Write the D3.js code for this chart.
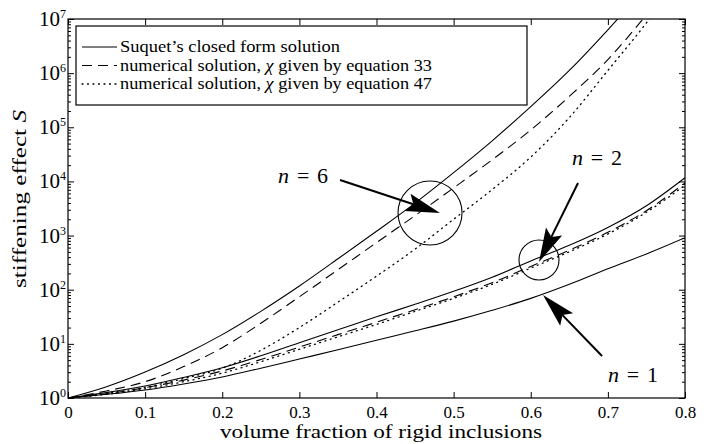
<!DOCTYPE html>
<html>
<head>
<meta charset="utf-8">
<script src="https://cdn.jsdelivr.net/npm/d3@7"></script>
<style>
  html, body { margin: 0; padding: 0; background: #fff; }
  svg { display: block; }
  svg text { font-family: "Liberation Serif", "DejaVu Serif", "Times New Roman", serif; fill: #000; }
</style>
</head>
<body>
<script>
// Volume fraction of rigid inclusions (x positions of the sampled curves)
const fractions = [0, 0.05, 0.1, 0.15, 0.2, 0.25, 0.3, 0.35, 0.4, 0.45, 0.5, 0.55, 0.6, 0.65, 0.7, 0.75, 0.8];

// Stiffening effect S for each exponent n
const n1Closed   = [1, 1.17, 1.41, 1.82, 2.45, 3.55, 5.25, 7.76, 11.7, 17.4, 26.3, 41.7, 69.2, 126, 245, 457, 912];

const n2Closed   = [1, 1.26, 1.66, 2.40, 3.63, 6.03, 10.5, 18.2, 31.6, 53.7, 93.3, 170, 339, 661, 1410, 3550, 11700];
const n2Eq33     = [1, 1.20, 1.55, 2.14, 3.16, 5.13, 8.71, 14.8, 25.1, 42.7, 74.1, 135, 269, 537, 1150, 2880, 9330];
const n2Eq47     = [1, 1.17, 1.48, 2.00, 2.88, 4.68, 7.94, 13.5, 22.9, 39.8, 69.2, 126, 251, 501, 1070, 2690, 8510];

const n6Closed   = [1, 1.62, 3.02, 6.31, 14.8, 39.8, 117, 372, 1200, 3980, 14500, 56200, 240000, 1120000, 6310000, 39800000, 250000000];
const n6Eq33     = [1, 1.35, 2.00, 3.80, 8.51, 24.0, 74.1, 234, 741, 2340, 7590, 25100, 89100, 372000, 1780000, 12000000, 100000000];
const n6Eq47     = [1, 1.23, 1.58, 2.29, 3.55, 7.59, 20.0, 58.9, 178, 562, 2000, 7080, 28200, 151000, 1120000, 8500000, 80000000];

// Axis ticks
const xTicks = [0, 0.1, 0.2, 0.3, 0.4, 0.5, 0.6, 0.7, 0.8];
const xTickLabels = ["0", "0.1", "0.2", "0.3", "0.4", "0.5", "0.6", "0.7", "0.8"];
const yDecades = [0, 1, 2, 3, 4, 5, 6, 7];

// Legend entries
const legendLabels = [
  ["Suquet\u2019s closed form solution"],
  ["numerical solution, ", "\u03C7", " given by equation 33"],
  ["numerical solution, ", "\u03C7", " given by equation 47"]
];
const legendWidths = [220, 312, 312];

const W = 715, H = 444;
const margin = { left: 68, right: 30, top: 19, bottom: 46 };
const pw = W - margin.left - margin.right;
const ph = H - margin.top - margin.bottom;

const svg = d3.select("body").append("svg").attr("width", W).attr("height", H);
const g = svg.append("g").attr("transform", `translate(${margin.left},${margin.top})`);

const x = d3.scaleLinear().domain([0, 0.8]).range([0, pw]);
const y = d3.scaleLog().domain([1, 1e7]).range([ph, 0]);

svg.append("defs").append("clipPath").attr("id", "plotClip")
  .append("rect").attr("width", pw).attr("height", ph);

// Curves
const dashes = { solid: null, dashed: "10,6", dotted: "1,4.5" };
const series = [
  { vals: n1Closed, style: "solid" },
  { vals: n2Closed, style: "solid" },
  { vals: n2Eq33, style: "dashed" },
  { vals: n2Eq47, style: "dotted" },
  { vals: n6Closed, style: "solid" },
  { vals: n6Eq33, style: "dashed" },
  { vals: n6Eq47, style: "dotted" }
];
const line = d3.line()
  .x(d => x(d[0]))
  .y(d => y(d[1]))
  .curve(d3.curveMonotoneX);

const curves = g.append("g").attr("clip-path", "url(#plotClip)");
series.forEach(s => {
  curves.append("path")
    .datum(fractions.map((f, i) => [f, s.vals[i]]))
    .attr("d", line)
    .attr("fill", "none")
    .attr("stroke", "#000")
    .attr("stroke-width", s.style === "dotted" ? 1.3 : 1.1)
    .attr("stroke-linecap", s.style === "dotted" ? "round" : "butt")
    .attr("stroke-dasharray", dashes[s.style]);
});

// Axes with inward ticks on all four sides
const minorVals = [];
for (let e = 0; e < 7; e++) for (let m = 2; m <= 9; m++) minorVals.push(m * Math.pow(10, e));
const majorVals = yDecades.map(e => Math.pow(10, e));

function styleAxis(sel) {
  sel.attr("font-family", null);
  sel.select(".domain").remove();
  sel.selectAll(".tick line").attr("stroke", "#000").attr("stroke-width", 1);
}

const xb = g.append("g").attr("transform", `translate(0,${ph})`)
  .call(d3.axisBottom(x).tickValues(xTicks).tickSizeInner(-6).tickSizeOuter(0).tickPadding(8)
    .tickFormat((d, i) => xTickLabels[i]));
styleAxis(xb);
xb.attr("font-size", 17);
xb.selectAll("text").attr("fill", "#000");

const xt = g.append("g")
  .call(d3.axisTop(x).tickValues(xTicks).tickSizeInner(-6).tickSizeOuter(0).tickFormat(""));
styleAxis(xt);

[[d3.axisLeft, 0], [d3.axisRight, pw]].forEach(([ax, tx]) => {
  const maj = g.append("g").attr("transform", `translate(${tx},0)`)
    .call(ax(y).tickValues(majorVals).tickSizeInner(-6).tickSizeOuter(0).tickFormat(""));
  styleAxis(maj);
  const mn = g.append("g").attr("transform", `translate(${tx},0)`)
    .call(ax(y).tickValues(minorVals).tickSizeInner(-3).tickSizeOuter(0).tickFormat(""));
  styleAxis(mn);
});

// Decade labels 10^k
const yl = g.append("g");
yDecades.forEach(e => {
  const t = yl.append("text")
    .attr("x", -2)
    .attr("y", y(Math.pow(10, e)) + 7)
    .attr("text-anchor", "end")
    .attr("font-size", 21);
  t.append("tspan").text("10");
  t.append("tspan").attr("dy", -8).attr("font-size", 12).text(String(e));
});

// Plot frame
g.append("rect").attr("width", pw).attr("height", ph)
  .attr("fill", "none").attr("stroke", "#000").attr("stroke-width", 1.2);

// Axis titles
svg.append("text")
  .attr("x", 220)
  .attr("y", 438)
  .attr("font-size", 18)
  .attr("textLength", 322)
  .attr("lengthAdjust", "spacingAndGlyphs")
  .text("volume fraction of rigid inclusions");

const ylab = svg.append("text")
  .attr("transform", "translate(26,288) rotate(-90)")
  .attr("font-size", 19)
  .attr("textLength", 178)
  .attr("lengthAdjust", "spacingAndGlyphs");
ylab.append("tspan").text("stiffening effect ");
ylab.append("tspan").attr("font-style", "italic").text("S");

// Legend
const lg = g.append("g").attr("transform", "translate(8,7)");
lg.append("rect").attr("width", 451).attr("height", 79)
  .attr("fill", "#fff").attr("stroke", "#000").attr("stroke-width", 1.2);
["solid", "dashed", "dotted"].forEach((st, i) => {
  const yy = 21 + i * 18.5;
  lg.append("line").attr("x1", 6).attr("x2", 41).attr("y1", yy).attr("y2", yy)
    .attr("stroke", "#000").attr("stroke-width", st === "dotted" ? 1.3 : 1.1)
    .attr("stroke-linecap", st === "dotted" ? "round" : "butt")
    .attr("stroke-dasharray", dashes[st]);
  const t = lg.append("text").attr("x", 44).attr("y", yy + 5).attr("font-size", 17)
    .attr("textLength", legendWidths[i]).attr("lengthAdjust", "spacingAndGlyphs");
  legendLabels[i].forEach(part => {
    const ts = t.append("tspan").text(part);
    if (part === "\u03C7") ts.attr("font-style", "italic");
  });
});

// Annotations: circles around curve families, arrows and exponent labels
const annotCircles = [
  { fx: 0.4694, s: 2610, r: 32 },
  { fx: 0.6107, s: 354, r: 20 }
];
const annotArrows = [
  { from: [0.3527, 10640], to: [0.4823, 2610] },
  { from: [0.6613, 9360], to: [0.6107, 325] },
  { from: [0.6924, 5.97], to: [0.6159, 79.9] }
];
const annotLabels = [
  { n: "6", fx: 0.2724, s: 9360 },
  { n: "2", fx: 0.6535, s: 20100 },
  { n: "1", fx: 0.7002, s: 1.97 }
];

const ann = g.append("g");
annotCircles.forEach(c => {
  ann.append("circle").attr("cx", x(c.fx)).attr("cy", y(c.s)).attr("r", c.r)
    .attr("fill", "none").attr("stroke", "#000").attr("stroke-width", 1.1);
});
annotArrows.forEach(a => {
  const x0 = x(a.from[0]), y0 = y(a.from[1]);
  const x1 = x(a.to[0]), y1 = y(a.to[1]);
  const ang = Math.atan2(y1 - y0, x1 - x0);
  const len = 34, half = 9, notch = 6;
  const ux = Math.cos(ang), uy = Math.sin(ang);
  const bx = x1 - ux * len, by = y1 - uy * len;
  ann.append("line").attr("x1", x0).attr("y1", y0)
    .attr("x2", x1 - ux * (len - notch)).attr("y2", y1 - uy * (len - notch))
    .attr("stroke", "#000").attr("stroke-width", 2);
  const pts = [
    [x1, y1],
    [bx - uy * half, by + ux * half],
    [bx + ux * notch, by + uy * notch],
    [bx + uy * half, by - ux * half]
  ];
  ann.append("path").attr("d", "M" + pts.map(p => p.join(",")).join("L") + "Z").attr("fill", "#000");
});
annotLabels.forEach(l => {
  const t = ann.append("text").attr("x", x(l.fx)).attr("y", y(l.s)).attr("font-size", 22)
    .attr("textLength", 50).attr("lengthAdjust", "spacing");
  t.append("tspan").attr("font-style", "italic").text("n");
  t.append("tspan").text(" = " + l.n);
});
</script>
</body>
</html>
